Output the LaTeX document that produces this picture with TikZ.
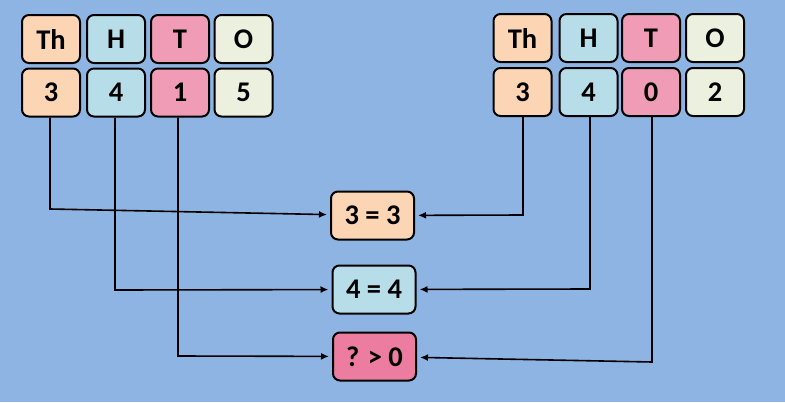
\documentclass[tikz,border=0pt]{standalone}
\usepackage{fontspec}
\setmainfont{Carlito}
\usetikzlibrary{positioning,shapes,arrows.meta}

\definecolor{bgblue}{RGB}{142,180,227}
\definecolor{peach}{RGB}{252,213,181}
\definecolor{lblue}{RGB}{183,222,232}
\definecolor{pink}{RGB}{241,156,182}
\definecolor{dpink}{RGB}{236,125,160}
\definecolor{cream}{RGB}{235,241,222}

\begin{document}
\begin{tikzpicture}
    [x=1pt,y=-1pt,>={Latex[length=8pt,width=7pt]},
     every node/.style={draw, rounded corners=7pt, line width=2pt, inner sep=0pt,
       minimum height=48pt, font=\fontsize{28.5}{34}\selectfont\bfseries},
     cell/.style={minimum width=58pt},
     cmp/.style={minimum width=83pt}]
  \fill[bgblue] (0,0) rectangle (785,402);

  % left number
  \node[cell, fill=peach] (lth) at (51,39) {Th};
  \node[cell, fill=lblue] (lh) at (116,39) {H};
  \node[cell, fill=pink] (lt) at (180,39) {T};
  \node[cell, fill=cream] (lo) at (243.5,39) {O};
  \node[cell, fill=peach] (l3) at (51,92.5) {3};
  \node[cell, fill=lblue] (l4) at (116,92.5) {4};
  \node[cell, fill=pink] (l1) at (180,92.5) {1};
  \node[cell, fill=cream] (l5) at (243.5,92.5) {5};

  % right number
  \node[cell, fill=peach] (rth) at (522.5,38) {Th};
  \node[cell, fill=lblue] (rh) at (588.5,38) {H};
  \node[cell, fill=pink] (rt) at (651,38) {T};
  \node[cell, fill=cream] (ro) at (715,38) {O};
  \node[cell, fill=peach] (r3) at (522.5,92) {3};
  \node[cell, fill=lblue] (r4) at (588.5,92) {4};
  \node[cell, fill=pink] (r0) at (651,92) {0};
  \node[cell, fill=cream] (r2) at (715,92) {2};

  % comparisons
  \node[cmp, fill=peach] (eqth) at (372.5,215.5) {3 = 3};
  \node[cmp, fill=lblue] (eqh) at (374,289.5) {4 = 4};
  \node[cmp, fill=dpink] (gtt) at (374.5,356.5) {? > 0};

  \coordinate (lcth) at (50,209);
  \coordinate (lch) at (115,290);
  \coordinate (lct) at (178,356);
  \coordinate (rcth) at (523,215);
  \coordinate (rch) at (590,289);
  \coordinate (rct) at (652,362);

  \foreach \from/\corner/\to in {l3/lcth/eqth, l4/lch/eqh, l1/lct/gtt,
                                 r3/rcth/eqth, r4/rch/eqh, r0/rct/gtt}
    \draw[->, line width=1.6pt, shorten >=3pt] (\from.south -| \corner) -- (\corner) -- (\to);
\end{tikzpicture}
\end{document}
